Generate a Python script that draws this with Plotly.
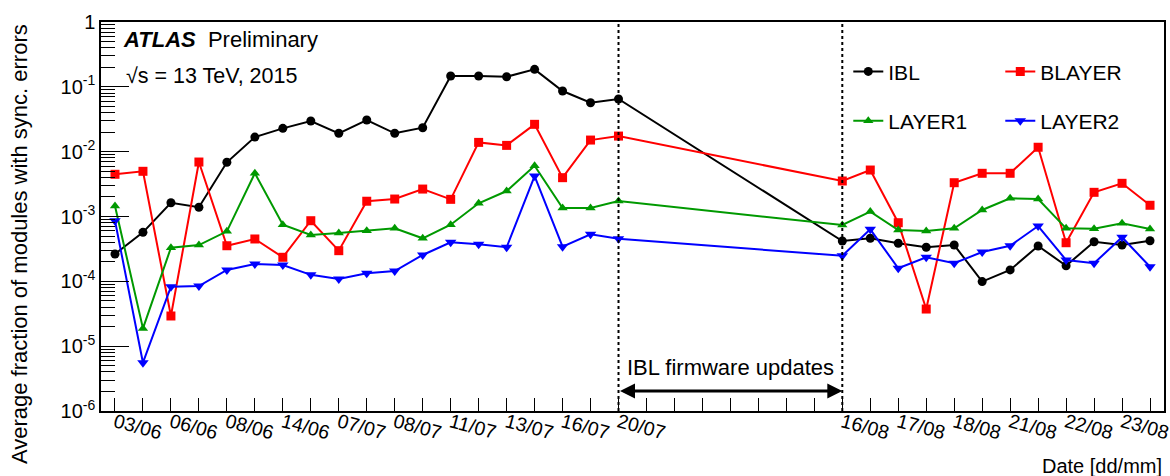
import plotly.graph_objects as go

# ---- data ----
# slot index of each run on the x axis (slots 19-25 are the firmware-update gap)
slot_index = list(range(0, 19)) + list(range(26, 38))
n_slots = 38

tick_slots = [0, 2, 4, 6, 8, 10, 12, 14, 16, 18, 26, 28, 30, 32, 34, 36]
tick_dates = ["03/06", "06/06", "08/06", "14/06", "07/07", "08/07", "11/07", "13/07",
              "16/07", "20/07", "16/08", "17/08", "18/08", "21/08", "22/08", "23/08"]

ibl = [2.64e-4, 5.7e-4, 1.63e-3, 1.39e-3, 6.86e-3, 1.68e-2, 2.29e-2, 2.97e-2, 1.92e-2,
       3.08e-2, 1.92e-2, 2.34e-2, 0.147, 0.147, 0.143, 0.186, 0.0862, 0.0569, 0.0649,
       4.19e-4, 4.61e-4, 3.86e-4, 3.35e-4, 3.63e-4, 9.9e-5, 1.50e-4, 3.51e-4, 1.74e-4,
       4.08e-4, 3.63e-4, 4.23e-4]
blayer = [4.48e-3, 4.98e-3, 2.92e-5, 6.92e-3, 3.54e-4, 4.50e-4, 2.35e-4, 8.61e-4, 2.97e-4,
          1.72e-3, 1.86e-3, 2.65e-3, 1.84e-3, 1.39e-2, 1.25e-2, 2.64e-2, 3.97e-3, 1.51e-2,
          1.74e-2, 3.53e-3, 5.21e-3, 8.02e-4, 3.74e-5, 3.32e-3, 4.64e-3, 4.64e-3, 1.17e-2,
          3.94e-4, 2.36e-3, 3.25e-3, 1.49e-3]
layer1 = [1.45e-3, 1.88e-5, 3.30e-4, 3.63e-4, 5.91e-4, 4.64e-3, 7.47e-4, 5.18e-4, 5.56e-4,
          6.03e-4, 6.57e-4, 4.61e-4, 7.47e-4, 1.60e-3, 2.47e-3, 6.07e-3, 1.35e-3, 1.35e-3,
          1.73e-3, 7.39e-4, 1.19e-3, 6.19e-4, 5.97e-4, 6.57e-4, 1.26e-3, 1.91e-3, 1.86e-3,
          6.57e-4, 6.48e-4, 7.85e-4, 6.41e-4]
layer2 = [8.61e-4, 5.56e-6, 8.26e-5, 8.47e-5, 1.50e-4, 1.85e-4, 1.79e-4, 1.26e-4, 1.09e-4,
          1.33e-4, 1.44e-4, 2.55e-4, 4.00e-4, 3.72e-4, 3.35e-4, 4.21e-3, 3.42e-4, 5.31e-4,
          4.54e-4, 2.48e-4, 6.34e-4, 1.59e-4, 2.35e-4, 1.90e-4, 2.83e-4, 3.54e-4, 7.13e-4,
          2.13e-4, 1.90e-4, 4.78e-4, 1.68e-4]

update_start_slot = 18   # 20/07
update_end_slot = 26     # 16/08

y_major = [1e-6, 1e-5, 1e-4, 1e-3, 1e-2, 1e-1, 1]
y_major_text = ["10<sup>-6</sup>", "10<sup>-5</sup>", "10<sup>-4</sup>", "10<sup>-3</sup>",
                "10<sup>-2</sup>", "10<sup>-1</sup>", "1"]

FONT = "Liberation Sans, Arial, Helvetica, sans-serif"

fig = go.Figure()

series = [
    ("IBL", ibl, "black", "circle", 9, "legend"),
    ("BLAYER", blayer, "#ff0000", "square", 9, "legend"),
    ("LAYER1", layer1, "#009900", "triangle-up", 9, "legend2"),
    ("LAYER2", layer2, "#0000ff", "triangle-down", 10, "legend2"),
]
for name, vals, col, sym, sz, lg in series:
    fig.add_trace(go.Scatter(
        x=slot_index, y=vals, name=name, mode="lines+markers",
        line=dict(color=col, width=2),
        marker=dict(color=col, symbol=sym, size=sz, line=dict(width=0)),
        legend=lg,
    ))

minor_vals = [m * 10.0 ** e for e in range(-6, 0) for m in range(2, 10)]

legend_common = dict(orientation="h", xanchor="left", yanchor="middle",
                     entrywidth=107, entrywidthmode="pixels", bgcolor="rgba(0,0,0,0)",
                     font=dict(size=21), itemwidth=30, borderwidth=0)

fig.update_layout(
    width=1170, height=476,
    margin=dict(l=101, r=6, t=22, b=65, autoexpand=False),
    paper_bgcolor="white", plot_bgcolor="white",
    font=dict(family=FONT, size=20, color="black"),
    xaxis=dict(
        range=[-0.5, n_slots - 0.5], automargin=False,
        tickmode="array", tickvals=list(range(n_slots)),
        ticktext=[tick_dates[tick_slots.index(i)] if i in tick_slots else "" for i in range(n_slots)],
        ticks="inside", ticklen=13, tickwidth=1, tickcolor="black",
        tickangle=15, tickfont=dict(size=19.5), ticklabelstandoff=-9,
        ticklabeloverflow="allow",
        showline=True, linecolor="black", linewidth=1.5, mirror=True,
        showgrid=False, zeroline=False,
    ),
    yaxis=dict(
        type="log", range=[-6, 0], automargin=False,
        tickmode="array", tickvals=y_major, ticktext=y_major_text,
        ticks="inside", ticklen=28, tickwidth=1, tickcolor="black",
        tickfont=dict(size=20),
        minor=dict(tickmode="array", tickvals=minor_vals, ticks="inside",
                   ticklen=14, tickwidth=1, tickcolor="black", showgrid=False),
        showline=True, linecolor="black", linewidth=1.5, mirror=True,
        showgrid=False, zeroline=False,
    ),
    legend=dict(x=0.703, y=0.872, **legend_common),
    legend2=dict(x=0.703, y=0.745, **legend_common),
    showlegend=True,
)

for s in (update_start_slot, update_end_slot):
    fig.add_shape(type="line", xref="x", yref="paper", x0=s, x1=s, y0=0, y1=1,
                  line=dict(color="black", width=2, dash="dot"))

arrow_y = -5.69
fig.add_annotation(x=update_end_slot, y=arrow_y, ax=update_start_slot, ay=arrow_y,
                   xref="x", yref="y", axref="x", ayref="y", text="",
                   showarrow=True, arrowside="end+start", arrowhead=2, arrowsize=1,
                   arrowwidth=3, arrowcolor="black", standoff=0, startstandoff=0)
fig.add_annotation(x=(update_start_slot + update_end_slot) / 2, y=0.111, xref="x", yref="paper",
                   text="IBL firmware updates", showarrow=False, font=dict(size=22),
                   xanchor="center", yanchor="middle")

fig.add_annotation(x=0.0185, y=0.954, xref="paper", yref="paper", xanchor="left", yanchor="middle",
                   text="<b><i>ATLAS</i></b>  Preliminary", showarrow=False, font=dict(size=22))
fig.add_annotation(x=0.0215, y=0.860, xref="paper", yref="paper", xanchor="left", yanchor="middle",
                   text="√s = 13 TeV, 2015", showarrow=False, font=dict(size=21.5))
fig.add_annotation(x=1.0, y=-0.141, xref="paper", yref="paper", xanchor="right", yanchor="middle",
                   text="Date [dd/mm]", showarrow=False, font=dict(size=20))
fig.add_annotation(x=-0.0771, y=1.0, xref="paper", yref="paper", xanchor="center", yanchor="top",
                   text="Average fraction of modules with sync. errors", textangle=-90,
                   showarrow=False, font=dict(size=22))

# remove the browser's default 8px page margin so the figure sits at the window's corner
fig.write_html("out.html", config={"displayModeBar": False},
               post_script="document.body.style.margin='0';document.body.style.overflow='hidden';")
